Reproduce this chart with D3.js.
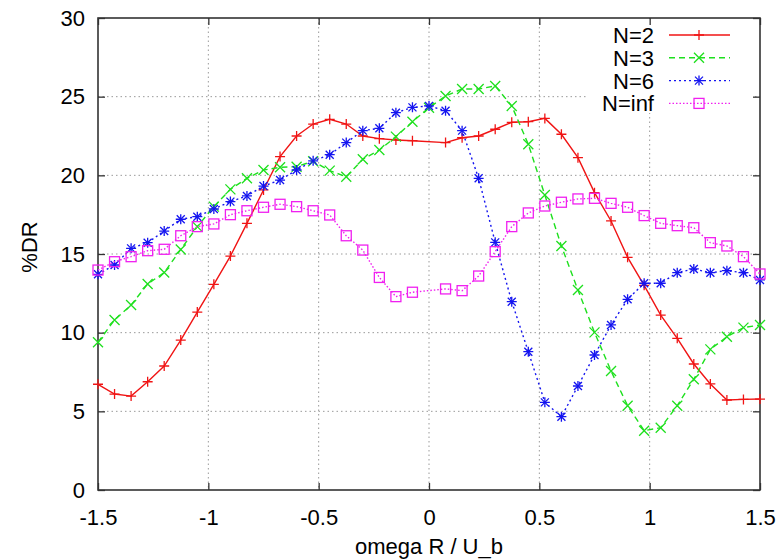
<!DOCTYPE html>
<html>
<head>
<meta charset="utf-8">
<script src="https://cdn.jsdelivr.net/npm/d3@7"></script>
<style>
  body { margin: 0; background: #fff; }
  text { font-family: "Liberation Sans", Arial, sans-serif; fill: #000; }
</style>
</head>
<body>
<div class="chart"></div>
<script>
// omega R / U_b
var omega = [-1.5, -1.425, -1.35, -1.275, -1.2, -1.125, -1.05, -0.975, -0.9, -0.825,
  -0.75, -0.675, -0.6, -0.525, -0.45, -0.375, -0.3, -0.225, -0.15, -0.075,
  0, 0.075, 0.15, 0.225, 0.3, 0.375, 0.45, 0.525, 0.6, 0.675,
  0.75, 0.825, 0.9, 0.975, 1.05, 1.125, 1.2, 1.275, 1.35, 1.425, 1.5];

// %DR, null = no point
var dr2 = [6.72, 6.10, 5.97, 6.88, 7.88, 9.53, 11.31, 13.07, 14.87, 16.95,
  19.07, 21.19, 22.50, 23.26, 23.56, 23.26, 22.50, 22.33, 22.25, 22.20,
  null, 22.08, 22.39, 22.50, 22.93, 23.37, 23.41, 23.62, 22.61, 21.12,
  18.90, 17.10, 14.79, 13.01, 11.12, 9.64, 8.01, 6.74, 5.72, 5.76, 5.78];
var dr3 = [9.39, 10.81, 11.76, 13.09, 13.82, 15.29, 16.74, 18.01, 19.11, 19.81,
  20.34, 20.51, 20.55, 20.90, 20.30, 19.91, 21.02, 21.61, 22.46, 23.41,
  24.30, 25.04, 25.49, 25.49, 25.68, 24.41, 21.98, 18.75, 15.51, 12.71,
  10.02, 7.56, 5.36, 3.77, 3.96, 5.36, 7.04, 8.94, 9.74, 10.32, 10.49];
var dr6 = [13.71, 14.30, 15.36, 15.72, 16.46, 17.21, 17.37, 17.86, 18.33, 18.69,
  19.32, 19.70, 20.34, 20.92, 21.31, 22.08, 22.84, 22.99, 23.98, 24.32,
  24.41, 24.11, 22.84, 19.81, 15.74, 11.97, 8.79, 5.57, 4.66, 6.61,
  8.58, 10.49, 12.12, 13.14, 13.14, 13.81, 14.05, 13.81, 13.94, 13.81, 13.35];
var drInf = [13.98, 14.51, 14.83, 15.21, 15.30, 16.16, 16.74, 16.91, 17.50, 17.75,
  17.97, 18.16, 18.01, 17.75, 17.48, 16.16, 15.25, 13.51, 12.29, 12.57,
  null, 12.78, 12.67, 13.60, 15.15, 16.74, 17.61, 18.05, 18.29, 18.50,
  18.54, 18.22, 17.97, 17.44, 16.95, 16.80, 16.67, 15.72, 15.51, 14.83, 13.73];

var names = ['N=2', 'N=3', 'N=6', 'N=inf'];
var xTicks = [-1.5, -1, -0.5, 0, 0.5, 1, 1.5];
var yTicks = [0, 5, 10, 15, 20, 25, 30];

var width = 779;
var height = 560;
var padding = { top: 18, right: 19, bottom: 70, left: 98 };
var w = width - padding.left - padding.right;
var h = height - padding.top - padding.bottom;

var series = [
  { name: names[0], values: dr2, color: '#f01414', dash: null, mark: 'plus' },
  { name: names[1], values: dr3, color: '#1ee01e', dash: '6,4', mark: 'cross' },
  { name: names[2], values: dr6, color: '#1414f0', dash: '2,3', mark: 'star' },
  { name: names[3], values: drInf, color: '#f020f0', dash: '1.5,2', mark: 'box' }
];

var xScale = d3.scaleLinear().domain([-1.5, 1.5]).range([0, w]);
var yScale = d3.scaleLinear().domain([0, 30]).range([h, 0]);

var svg = d3.select('.chart')
  .append('svg')
  .attr('width', width)
  .attr('height', height);

var g = svg.append('g')
  .attr('transform', 'translate(' + padding.left + ',' + padding.top + ')');

// 网格
g.append('g')
  .selectAll('line')
  .data(xTicks.slice(1, -1))
  .enter()
  .append('line')
  .attr('x1', function(d) { return xScale(d); })
  .attr('x2', function(d) { return xScale(d); })
  .attr('y1', 0)
  .attr('y2', h)
  .attr('stroke', '#9a9a9a')
  .attr('stroke-dasharray', '1.5,3');
g.append('g')
  .selectAll('line')
  .data(yTicks.slice(1, -1))
  .enter()
  .append('line')
  .attr('x1', 0)
  .attr('x2', w)
  .attr('y1', function(d) { return yScale(d); })
  .attr('y2', function(d) { return yScale(d); })
  .attr('stroke', '#9a9a9a')
  .attr('stroke-dasharray', '1.5,3');

// legend background hides grid
g.append('rect')
  .attr('x', 587 - padding.left)
  .attr('y', 1)
  .attr('width', 165)
  .attr('height', 112 - padding.top)
  .attr('fill', '#fff');

// axes, ticks inward on all four sides
var fmt = function(d) { return String(d); };
g.append('g')
  .attr('class', 'axis')
  .attr('transform', 'translate(0,' + h + ')')
  .call(d3.axisBottom(xScale).tickValues(xTicks).tickSize(-7).tickPadding(19).tickFormat(fmt));
g.append('g')
  .attr('class', 'axis')
  .call(d3.axisTop(xScale).tickValues(xTicks).tickSize(-7).tickFormat(''));
g.append('g')
  .attr('class', 'axis')
  .call(d3.axisLeft(yScale).tickValues(yTicks).tickSize(-7).tickPadding(13).tickFormat(fmt));
g.append('g')
  .attr('class', 'axis')
  .attr('transform', 'translate(' + w + ',0)')
  .call(d3.axisRight(yScale).tickValues(yTicks).tickSize(-7).tickFormat(''));

g.selectAll('.axis .domain').remove();
g.selectAll('.axis line').attr('stroke', '#333').attr('stroke-width', 1.3);
g.selectAll('.axis text')
  .style('font-family', '"Liberation Sans", Arial, sans-serif')
  .style('font-size', '22px')
  .attr('fill', '#000');

g.append('rect')
  .attr('width', w)
  .attr('height', h)
  .attr('fill', 'none')
  .attr('stroke', '#333')
  .attr('stroke-width', 1.6);

// 标记
function marker(sel, type, color) {
  var s = 5;
  if (type === 'plus' || type === 'star') {
    sel.append('path').attr('d', 'M' + (-s) + ',0H' + s + 'M0,' + (-s) + 'V' + s)
      .attr('stroke', color).attr('stroke-width', 1.3).attr('fill', 'none');
  }
  if (type === 'cross' || type === 'star') {
    var c = type === 'star' ? 4 : 5;
    sel.append('path').attr('d', 'M' + (-c) + ',' + (-c) + 'L' + c + ',' + c + 'M' + (-c) + ',' + c + 'L' + c + ',' + (-c))
      .attr('stroke', color).attr('stroke-width', 1.3).attr('fill', 'none');
  }
  if (type === 'box') {
    sel.append('rect').attr('x', -5).attr('y', -5).attr('width', 10).attr('height', 10)
      .attr('stroke', color).attr('stroke-width', 1.3).attr('fill', 'none');
  }
}

var linePath = d3.line()
  .x(function(d) { return xScale(d.x); })
  .y(function(d) { return yScale(d.y); });

series.forEach(function(s) {
  var pts = omega.map(function(x, i) { return { x: x, y: s.values[i] }; })
    .filter(function(d) { return d.y !== null; });

  g.append('path')
    .attr('d', linePath(pts))
    .attr('fill', 'none')
    .attr('stroke', s.color)
    .attr('stroke-width', 1.4)
    .attr('stroke-dasharray', s.dash);

  g.append('g')
    .selectAll('g')
    .data(pts)
    .enter()
    .append('g')
    .attr('transform', function(d) {
      return 'translate(' + xScale(d.x) + ',' + yScale(d.y) + ')';
    })
    .each(function() { marker(d3.select(this), s.mark, s.color); });
});

// 图例
var legend = svg.append('g');
series.forEach(function(s, i) {
  var cy = 35 + i * 22.8;
  legend.append('text')
    .attr('x', 654)
    .attr('y', cy + 8)
    .attr('text-anchor', 'end')
    .style('font-size', '22px')
    .text(s.name);
  legend.append('line')
    .attr('x1', 669)
    .attr('x2', 730)
    .attr('y1', cy)
    .attr('y2', cy)
    .attr('stroke', s.color)
    .attr('stroke-width', 1.4)
    .attr('stroke-dasharray', s.dash);
  marker(legend.append('g').attr('transform', 'translate(699,' + cy + ')'), s.mark, s.color);
});

svg.append('text')
  .attr('x', padding.left + w / 2)
  .attr('y', 554)
  .attr('text-anchor', 'middle')
  .style('font-size', '22px')
  .text('omega R / U_b');

svg.append('text')
  .attr('transform', 'translate(37,247) rotate(-90)')
  .attr('text-anchor', 'middle')
  .style('font-size', '22px')
  .text('%DR');
</script>
</body>
</html>
